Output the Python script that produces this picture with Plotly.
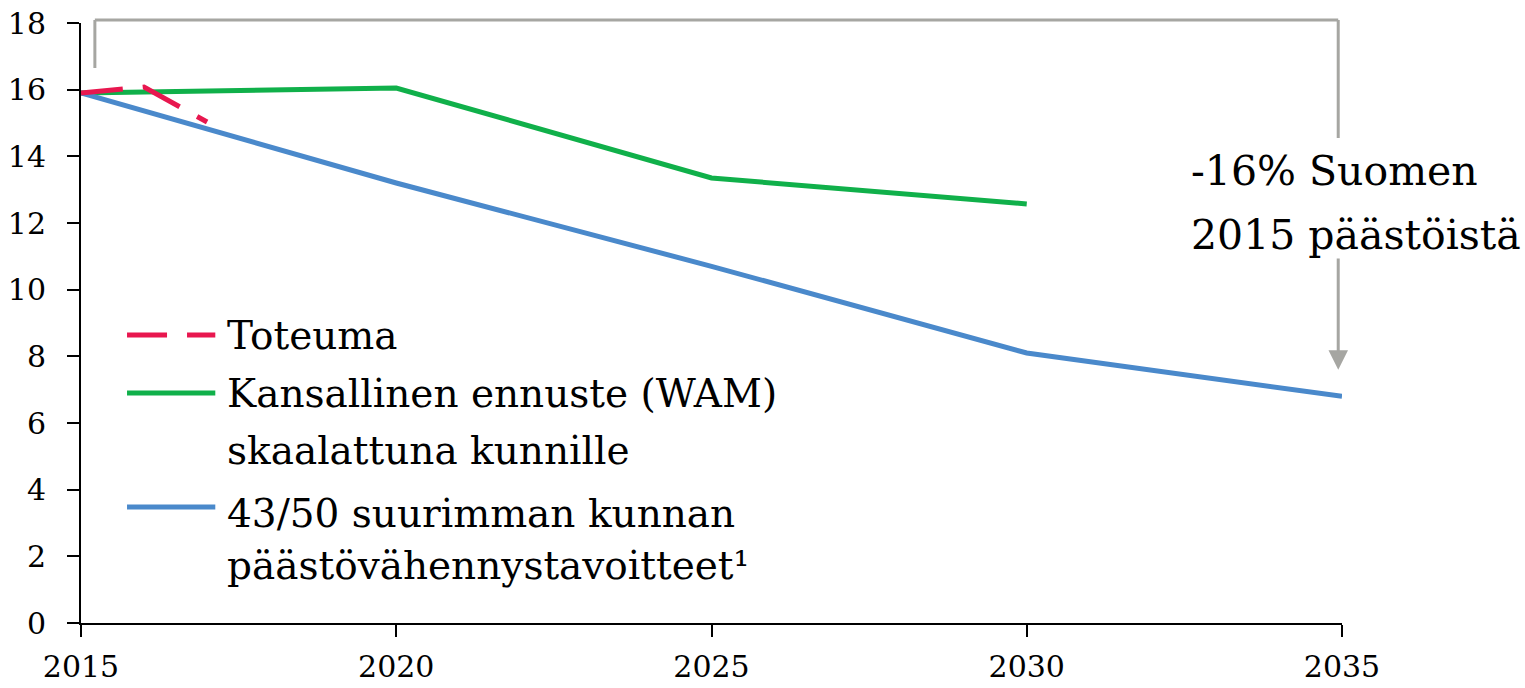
import plotly.graph_objects as go

# ---- data ----
toteuma_years = [2015, 2016, 2017]
toteuma_vals = [15.9, 16.08, 15.03]
wam_years = [2015, 2020, 2025, 2030]
wam_vals = [15.9, 16.05, 13.35, 12.57]
target_years = [2015, 2020, 2025, 2030, 2035]
target_vals = [15.9, 13.2, 10.7, 8.1, 6.8]

x_ticks = [2015, 2020, 2025, 2030, 2035]
y_ticks = [0, 2, 4, 6, 8, 10, 12, 14, 16, 18]

legend_lines = [
    ["Toteuma"],
    ["Kansallinen ennuste (WAM)", "skaalattuna kunnille"],
    ["43/50 suurimman kunnan", "päästövähennystavoitteet¹"],
]
note_lines = ["-16% Suomen", "2015 päästöistä"]

RED = "#E8174F"
GREEN = "#10B04A"
BLUE = "#4A89CB"
GRAY = "#A6A6A2"
FONT = "DejaVu Serif"

X0, X1 = 2015, 2035
Y0, Y1 = 0, 18


def px(x):
    return (x - X0) / (X1 - X0)


def py(y):
    return (y - Y0) / (Y1 - Y0)


fig = go.Figure()
fig.add_trace(go.Scatter(x=wam_years, y=wam_vals, mode="lines",
                         line=dict(color=GREEN, width=5), showlegend=False))
fig.add_trace(go.Scatter(x=target_years, y=target_vals, mode="lines",
                         line=dict(color=BLUE, width=5), showlegend=False))
fig.add_trace(go.Scatter(x=toteuma_years, y=toteuma_vals, mode="lines",
                         line=dict(color=RED, width=5, dash="42px,20px"),
                         showlegend=False))

annotations = []

# bracket
bx_left, bx_right = 2015.22, 2034.94
by_top, by_left_end, by_gap_top, by_gap_bot, by_tip = 18.09, 16.65, 14.55, 10.98, 7.6
gline = dict(color=GRAY, width=3)
shapes = [
    dict(type="line", xref="paper", yref="paper", x0=px(bx_left), x1=px(bx_left),
         y0=py(by_left_end), y1=py(by_top), line=gline),
    dict(type="line", xref="paper", yref="paper", x0=px(bx_left), x1=px(bx_right),
         y0=py(by_top), y1=py(by_top), line=gline),
    dict(type="line", xref="paper", yref="paper", x0=px(bx_right), x1=px(bx_right),
         y0=py(by_top), y1=py(by_gap_top), line=gline),
]
annotations.append(dict(x=bx_right, y=by_tip, xref="x", yref="y",
                        ax=bx_right, ay=by_gap_bot, axref="x", ayref="y",
                        showarrow=True, arrowhead=2, arrowsize=1.3, arrowwidth=3,
                        arrowcolor=GRAY, text=""))

# note text
note_x = 2032.58
for i, t in enumerate(note_lines):
    annotations.append(dict(x=note_x, y=[13.55, 11.65][i], xref="x", yref="y",
                            text=t, showarrow=False, xanchor="left", yanchor="middle",
                            font=dict(family=FONT, size=41, color="black")))

# manual legend
leg_x0, leg_x1, leg_tx = 2015.73, 2017.13, 2017.29
leg_rows = [
    (RED, "40px,20px", 8.64, [8.64]),
    (GREEN, "solid", 6.9, [6.9, 5.19]),
    (BLUE, "solid", 3.48, [3.3, 1.74]),
]
for (col, dash, yl, ys), lines in zip(leg_rows, legend_lines):
    shapes.append(dict(type="line", xref="x", yref="y", x0=leg_x0, x1=leg_x1,
                       y0=yl, y1=yl, line=dict(color=col, width=5, dash=dash)))
    for yy, t in zip(ys, lines):
        annotations.append(dict(x=leg_tx, y=yy, xref="x", yref="y", text=t,
                                showarrow=False, xanchor="left", yanchor="middle",
                                font=dict(family=FONT, size=39, color="black")))

fig.update_layout(
    width=1525, height=688,
    margin=dict(l=81, r=183, t=23, b=65),
    paper_bgcolor="white", plot_bgcolor="white",
    shapes=shapes, annotations=annotations,
    font=dict(family=FONT, color="black"),
)
fig.update_xaxes(range=[X0, X1], tickvals=x_ticks, ticktext=[str(v) for v in x_ticks],
                 showgrid=False, zeroline=False, showline=True, linecolor="black",
                 linewidth=2, ticks="outside", ticklen=12, tickwidth=2, tickcolor="black",
                 tickfont=dict(family=FONT, size=30, color="black"), ticklabelstandoff=4,
                 automargin=False)
fig.update_yaxes(range=[Y0, Y1], tickvals=y_ticks, showgrid=False, zeroline=False,
                 showline=True, linecolor="black", linewidth=2, ticks="outside",
                 ticklen=12, tickwidth=2, tickcolor="black",
                 tickfont=dict(family=FONT, size=30, color="black"), ticklabelstandoff=15,
                 automargin=False)

fig.write_html("out.html", config={"displayModeBar": False},
               post_script="document.body.style.margin='0';")
